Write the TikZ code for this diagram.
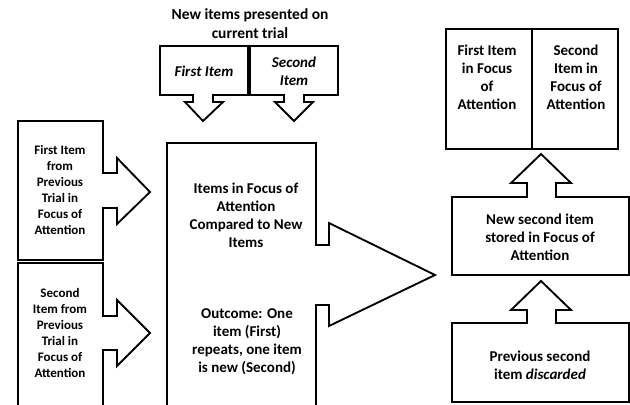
\documentclass[tikz,border=0pt]{standalone}
\usepackage{fontspec}
\setmainfont{Carlito}
\tikzset{
  shp/.style={draw=black, line width=1.4pt, line join=miter, fill=white},
  lbl/.style={align=center, font=\fontsize{11.25}{13.5}\selectfont\bfseries, inner sep=0pt},
  ttl/.style={align=center, font=\fontsize{11.6}{14.2}\selectfont\bfseries, inner sep=0pt},
  sml/.style={align=center, font=\fontsize{9.75}{12}\selectfont\bfseries, inner sep=0pt},
}
\begin{document}
\begin{tikzpicture}[x=0.75pt,y=-0.75pt]
\useasboundingbox (0,0) rectangle (630,404);
\clip (0,0) rectangle (630,404);
% top callouts
\draw[shp] (160,46) -- (248,46) -- (248,95) -- (213,95) -- (213,102) -- (223,102) -- (203,121) -- (185,102) -- (193,102) -- (193,95) -- (160,95) -- cycle;
\draw[shp] (250,46) -- (338,46) -- (338,95) -- (304,95) -- (304,102) -- (313,102) -- (294,121) -- (275,102) -- (284,102) -- (284,95) -- (250,95) -- cycle;
% left callouts
\draw[shp] (18,121) -- (103,121) -- (103,173) -- (117,173) -- (117,158) -- (150,192) -- (117,224) -- (117,208) -- (103,208) -- (103,260) -- (18,260) -- cycle;
\draw[shp] (18,263) -- (103,263) -- (103,316) -- (117,316) -- (117,300) -- (150,333) -- (117,366) -- (117,350) -- (103,350) -- (103,420) -- (18,420) -- cycle;
% center callout
\draw[shp] (167,143) -- (316,143) -- (316,245) -- (329,245) -- (329,223) -- (435,275) -- (329,326) -- (329,305) -- (316,305) -- (316,420) -- (167,420) -- cycle;
% right side
\draw[shp] (446,29) rectangle (618,149);
\draw[shp] (532,29) -- (532,149);
\draw[shp] (452,197) -- (527,197) -- (527,183) -- (511,183) -- (541,154) -- (571,183) -- (556,183) -- (556,197) -- (629,197) -- (629,275) -- (452,275) -- cycle;
\draw[shp] (452,323) -- (527,323) -- (527,310) -- (511,310) -- (541,281) -- (571,310) -- (556,310) -- (556,323) -- (629,323) -- (629,402) -- (452,402) -- cycle;
% texts
\node[ttl] (title) at (250,24) {New items presented on\\current trial};
\node[lbl] (t1) at (204,71) {\itshape First Item};
\node[lbl] (t2) at (294,71) {\itshape Second\\\itshape Item};
\node[sml] (l1) at (60,190) {First Item\\from\\Previous\\Trial in\\Focus of\\Attention};
\node[sml] (l2) at (60,333) {Second\\Item from\\Previous\\Trial in\\Focus of\\Attention};
\node[lbl] (c1) at (246,215) {Items in Focus of\\Attention\\Compared to New\\Items};
\node[lbl] (c2) at (247,342) {Outcome: One\\item (First)\\repeats, one item\\is new (Second)};
\node[lbl] (r1) at (487,77) {First Item\\in Focus\\of\\Attention};
\node[lbl] (r2) at (576,77) {Second\\Item in\\Focus of\\Attention};
\node[lbl] (m) at (540,237) {New second item\\stored in Focus of\\Attention};
\node[lbl] (b) at (540,365) {Previous second\\item \textit{discarded}};
\end{tikzpicture}
\end{document}
